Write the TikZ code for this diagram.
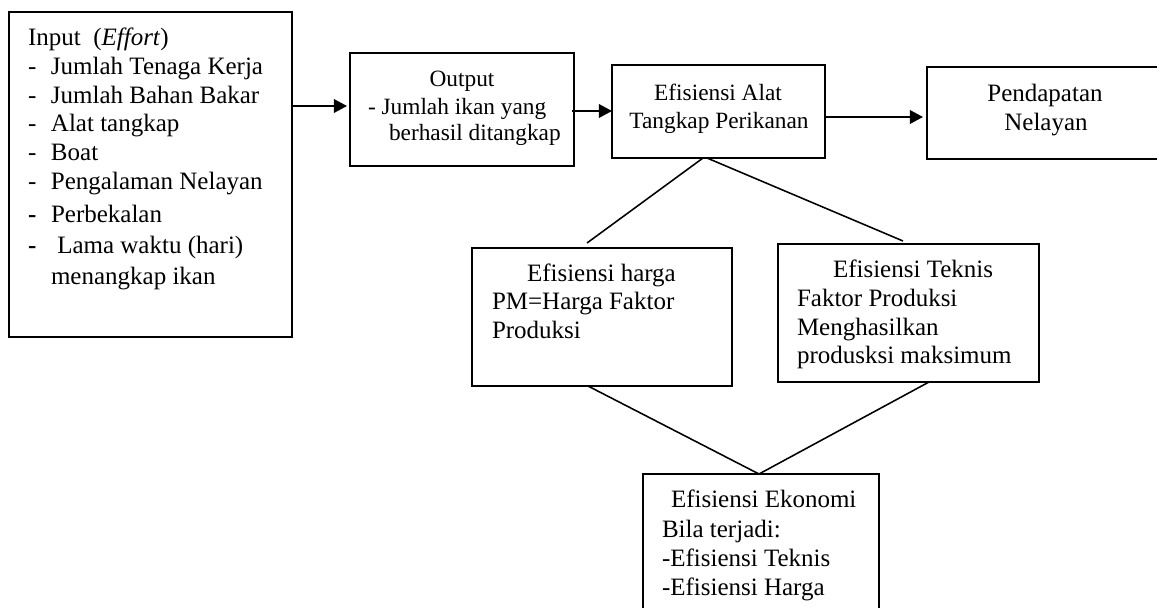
\documentclass[tikz,border=0pt]{standalone}
\usepackage{fontspec}
\setmainfont{Liberation Serif}
\usetikzlibrary{arrows.meta,calc}
\newcommand\dsh[1]{\makebox[11.04pt][l]{#1}}
\begin{document}
\begin{tikzpicture}[x=0.48pt,y=-0.48pt,
  box/.style={draw,line width=0.95pt,inner sep=0pt,outer sep=0pt,rectangle},
  txt/.style={inner sep=0pt,outer sep=0pt,font=\fontsize{12}{14}\selectfont},
  stxt/.style={inner sep=0pt,outer sep=0pt,font=\fontsize{11.2}{13}\selectfont},
  arr/.style={line width=0.95pt,-{Triangle[length=6.3pt,width=6.5pt]}},
  conn/.style={line width=0.75pt}]
\useasboundingbox (0,0) rectangle (1157,607);
\clip (0,0) rectangle (1157,607);
% boxes
\node[box,minimum width=135.84pt,minimum height=156pt] (inbox) at (150.5,174.5) {};
\node[box,minimum width=107.52pt,minimum height=54.24pt] (outbox) at (462,109.5) {};
\node[box,minimum width=102.24pt,minimum height=44.64pt] (eabox) at (718.5,111.5) {};
\node[box,minimum width=116.64pt,minimum height=44.16pt] (pdbox) at (1048.5,113) {};
\node[box,minimum width=124.8pt,minimum height=66.24pt] (hgbox) at (602,317) {};
\node[box,minimum width=125.28pt,minimum height=66.24pt] (tkbox) at (908.5,313) {};
\node[box,minimum width=113.28pt,minimum height=79.68pt] (ekbox) at (761,557) {};
% input text
\node[txt,anchor=base west] (in0) at (28,45) {Input\ \ (\textit{Effort})};
\node[txt,anchor=base west] (in1) at (28,74) {\dsh{-}Jumlah Tenaga Kerja};
\node[txt,anchor=base west] (in2) at (28,103) {\dsh{-}Jumlah Bahan Bakar};
\node[txt,anchor=base west] (in3) at (28,131) {\dsh{-}Alat tangkap};
\node[txt,anchor=base west] (in4) at (28,160) {\dsh{-}Boat};
\node[txt,anchor=base west] (in5) at (28,189) {\dsh{-}Pengalaman Nelayan};
\node[txt,anchor=base west] (in6) at (28,222) {\dsh{\textbf{-}}Perbekalan};
\node[txt,anchor=base west] (in7) at (28,253) {\dsh{\textbf{-}}\ Lama waktu (hari)};
\node[txt,anchor=base west] (in8) at (51,284) {menangkap ikan};
% output text
\node[stxt,anchor=base] (out0) at (462,86) {Output};
\node[stxt,anchor=base west] (out1) at (368,114) {- Jumlah ikan yang};
\node[stxt,anchor=base west] (out2) at (389,140) {berhasil ditangkap};
% efisiensi alat
\node[stxt,anchor=base] (ea0) at (718,100) {Efisiensi Alat};
\node[stxt,anchor=base] (ea1) at (719,128) {Tangkap Perikanan};
% pendapatan
\node[txt,anchor=base] (pd0) at (1045,101) {Pendapatan};
\node[txt,anchor=base] (pd1) at (1046,130) {Nelayan};
% efisiensi harga
\node[txt,anchor=base west] (hg0) at (527,281) {Efisiensi harga};
\node[txt,anchor=base west] (hg1) at (492,309) {PM=Harga Faktor};
\node[txt,anchor=base west] (hg2) at (492,338) {Produksi};
% efisiensi teknis
\node[txt,anchor=base west] (tk0) at (833,277) {Efisiensi Teknis};
\node[txt,anchor=base west] (tk1) at (797,306) {Faktor Produksi};
\node[txt,anchor=base west] (tk2) at (797,335) {Menghasilkan};
\node[txt,anchor=base west] (tk3) at (797,363) {produsksi maksimum};
% efisiensi ekonomi
\node[txt,anchor=base west] (ek0) at (671,507) {Efisiensi Ekonomi};
\node[txt,anchor=base west] (ek1) at (662,537) {Bila terjadi:};
\node[txt,anchor=base west] (ek2) at (662,566) {-Efisiensi Teknis};
\node[txt,anchor=base west] (ek3) at (662,595) {-Efisiensi Harga};
% arrows
\draw[arr,shorten >=1.44pt] (inbox.east |- 0,106) -- (outbox.west |- 0,106);
\draw[arr] ($(outbox.east |- 0,111)+(-2,0)$) -- (eabox.west |- 0,111);
\draw[arr,shorten >=1.92pt] (eabox.east |- 0,117) -- (pdbox.west |- 0,117);
% connecting lines
\coordinate (eaL) at ($(eabox.south west)+(91,0)$);
\coordinate (eaR) at ($(eabox.south west)+(95,0)$);
\coordinate (hgT) at ($(hgbox.north west)+(115,-5)$);
\coordinate (tkT) at ($(tkbox.north west)+(125,-3)$);
\coordinate (hgB) at ($(hgbox.south west)+(116,0)$);
\coordinate (tkB) at ($(tkbox.south west)+(151,0)$);
\coordinate (ekT) at ($(ekbox.north west)+(116,0)$);
\draw[conn] (eaL) -- (hgT);
\draw[conn] (eaR) -- (tkT);
\draw[conn] (hgB) -- (ekT);
\draw[conn] (tkB) -- (ekT);
\end{tikzpicture}
\end{document}
